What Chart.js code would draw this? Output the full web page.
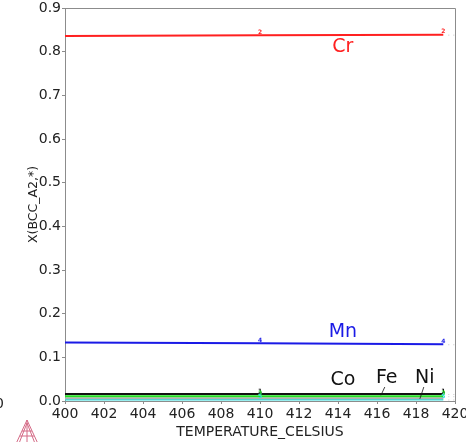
<!DOCTYPE html>
<html>
<head>
<meta charset="utf-8">
<script src="https://cdn.jsdelivr.net/npm/chart.js@4.4.0/dist/chart.umd.min.js"></script>
<style>
  html, body { margin: 0; padding: 0; background: #fff; }
  #wrap { width: 466px; height: 442px; }
</style>
</head>
<body>
<div id="wrap"><canvas id="myChart" width="466" height="442"></canvas></div>
<script>
// temperature steps of the equilibrium calculation
const temps = [400, 410, 419.4];

// BCC_A2 site fractions per element
const crValues = [0.836, 0.8375, 0.839];
const mnValues = [0.134, 0.132, 0.130];
const coValues = [0.016, 0.016, 0.016];
const feValues = [0.011, 0.011, 0.011];
const grayValues = [0.0062, 0.0062, 0.0062];
const niValues = [0.0035, 0.0035, 0.0035];

const xTicks = [400, 402, 404, 406, 408, 410, 412, 414, 416, 418, 420];
const yTicks = [0, 0.1, 0.2, 0.3, 0.4, 0.5, 0.6, 0.7, 0.8, 0.9];

const FONT = 'DejaVu Sans';
const AXIS = '#8c8c8c';

function toPoints(values) {
  return values.map((v, i) => ({ x: temps[i], y: v }));
}

const series = [
  { name: 'Cr', values: crValues, color: '#ff2020', tag: '2' },
  { name: 'Mn', values: mnValues, color: '#1a1ae6', tag: '4' },
  { name: 'Co', values: coValues, color: '#111111', tag: '1' },
  { name: 'Fe', values: feValues, color: '#22e022', tag: '3' },
  { name: '', values: grayValues, color: '#b0b0b0', tag: '' },
  { name: 'Ni', values: niValues, color: '#33dede', tag: '5' }
];

// line labels, placed in data units
const labels = [
  { text: 'Cr', x: 414.25, y: 0.799, color: '#ff2020' },
  { text: 'Mn', x: 414.25, y: 0.147, color: '#1a1ae6' },
  { text: 'Co', x: 414.25, y: 0.037, color: '#111111' },
  { text: 'Fe', x: 416.5, y: 0.041, color: '#111111' },
  { text: 'Ni', x: 418.45, y: 0.041, color: '#111111' }
];
// leader lines from Fe / Ni labels down to their curves
const leaders = [
  { x1: 416.4, y1: 0.032, x2: 416.2, y2: 0.013 },
  { x1: 418.4, y1: 0.032, x2: 418.2, y2: 0.005 }
];

const decorations = {
  id: 'decorations',
  afterDatasetsDraw(chart) {
    const { ctx, chartArea: a, scales: { x, y } } = chart;
    ctx.save();

    // frame on top and right
    ctx.strokeStyle = AXIS;
    ctx.lineWidth = 1;
    ctx.beginPath();
    ctx.moveTo(a.left, a.top + 0.5);
    ctx.lineTo(a.right + 0.5, a.top + 0.5);
    ctx.lineTo(a.right + 0.5, a.bottom);
    ctx.stroke();

    // small curve tags at mid and end
    ctx.font = 'bold 6px ' + FONT;
    ctx.textAlign = 'center';
    ctx.textBaseline = 'bottom';
    series.forEach(s => {
      if (!s.tag) return;
      ctx.fillStyle = s.color;
      [1, 2].forEach(i => {
        ctx.fillText(s.tag, x.getPixelForValue(temps[i]), y.getPixelForValue(s.values[i]));
      });
      ctx.fillStyle = '#c8c8c8';
      const ey = y.getPixelForValue(s.values[2]);
      ctx.fillRect(x.getPixelForValue(temps[2]) + 5, ey, 1, 1);
      ctx.fillRect(x.getPixelForValue(temps[2]) + 10, ey, 1, 1);
    });

    // curve names
    ctx.font = '19px ' + FONT;
    ctx.textBaseline = 'alphabetic';
    labels.forEach(l => {
      ctx.fillStyle = l.color;
      ctx.fillText(l.text, x.getPixelForValue(l.x), y.getPixelForValue(l.y));
    });
    ctx.strokeStyle = '#111';
    ctx.lineWidth = 0.8;
    leaders.forEach(l => {
      ctx.beginPath();
      ctx.moveTo(x.getPixelForValue(l.x1), y.getPixelForValue(l.y1));
      ctx.lineTo(x.getPixelForValue(l.x2), y.getPixelForValue(l.y2));
      ctx.stroke();
    });

    // clipped label at the far left
    ctx.fillStyle = '#222';
    ctx.font = '14px ' + FONT;
    ctx.textAlign = 'right';
    ctx.textBaseline = 'middle';
    ctx.fillText('0', 4, a.bottom + 3);

    // program logo, bottom left
    ctx.strokeStyle = '#d46a86';
    ctx.lineWidth = 1;
    const cx = 27, top = 420, base = 446, half = 12;
    ctx.beginPath();
    ctx.moveTo(cx, top); ctx.lineTo(cx - half, base); ctx.lineTo(cx + half, base); ctx.closePath();
    ctx.moveTo(cx, top + 3); ctx.lineTo(cx - half + 3, base);
    ctx.moveTo(cx, top + 3); ctx.lineTo(cx + half - 3, base);
    ctx.moveTo(cx, top); ctx.lineTo(cx, base);
    ctx.moveTo(cx - 7, top + 16); ctx.lineTo(cx + 7, top + 16);
    ctx.moveTo(cx - 5, top + 11); ctx.lineTo(cx + 5, top + 11);
    ctx.stroke();

    ctx.restore();
  }
};

new Chart(document.getElementById('myChart'), {
  type: 'line',
  data: {
    datasets: series.map(s => ({
      label: s.name,
      data: toPoints(s.values),
      borderColor: s.color,
      borderWidth: 2,
      pointRadius: 0,
      tension: 0
    }))
  },
  options: {
    responsive: false,
    animation: false,
    events: [],
    layout: { padding: { top: 8, right: 11, bottom: 0, left: 0 } },
    plugins: { legend: { display: false }, tooltip: { enabled: false } },
    scales: {
      x: {
        type: 'linear',
        min: 400,
        max: 420,
        afterFit: scale => {
          scale.height = 41;
          scale.paddingLeft = 0;
          scale.paddingRight = 0;
        },
        afterBuildTicks: scale => { scale.ticks = xTicks.map(v => ({ value: v })); },
        grid: { drawOnChartArea: false, tickLength: 3, color: AXIS },
        border: { color: AXIS },
        ticks: {
          color: '#222',
          font: { family: FONT, size: 14 },
          padding: 2,
          maxRotation: 0,
          callback: v => String(v)
        },
        title: {
          display: true,
          text: 'TEMPERATURE_CELSIUS',
          color: '#222',
          font: { family: FONT, size: 14 },
          padding: { top: 0, bottom: 1 }
        }
      },
      y: {
        type: 'linear',
        min: 0,
        max: 0.9,
        afterFit: scale => {
          scale.width = 65;
          scale.paddingTop = 0;
          scale.paddingBottom = 0;
        },
        afterBuildTicks: scale => { scale.ticks = yTicks.map(v => ({ value: v })); },
        grid: { drawOnChartArea: false, tickLength: 3, color: AXIS },
        border: { color: AXIS },
        ticks: {
          color: '#222',
          font: { family: FONT, size: 14 },
          padding: 1,
          callback: v => v.toFixed(1)
        },
        title: {
          display: true,
          text: 'X(BCC_A2,*)',
          color: '#222',
          font: { family: FONT, size: 12.5 },
          padding: { top: 26, bottom: 0 }
        }
      }
    }
  },
  plugins: [decorations]
});
</script>
</body>
</html>
